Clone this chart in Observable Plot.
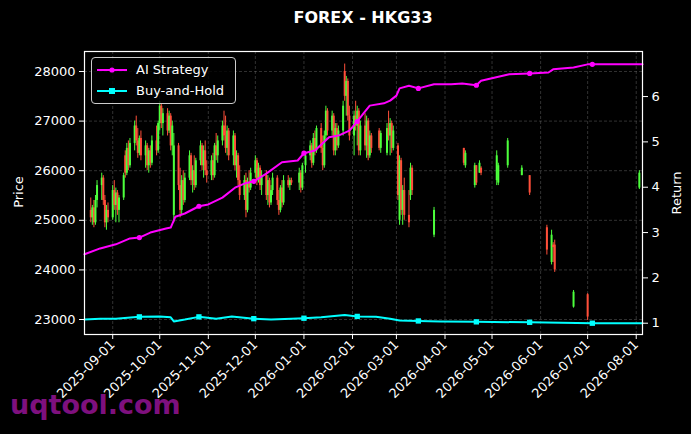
<!DOCTYPE html>
<html><head><meta charset="utf-8">
<script src="https://cdn.jsdelivr.net/npm/d3@7"></script>
<script src="https://cdn.jsdelivr.net/npm/@observablehq/plot@0.6"></script>
<style>
html,body{margin:0;padding:0;background:#000;}
#wrap{position:relative;width:691px;height:434px;background:#000;font-family:"DejaVu Sans",sans-serif;color:#fff;overflow:hidden}
#wrap > svg{position:absolute;left:0;top:0}
.title{position:absolute;left:84px;width:558px;top:8px;text-align:center;font-weight:bold;font-size:16px;}
.ylab{position:absolute;font-size:13px;white-space:nowrap;transform:translate(-50%,-50%) rotate(-90deg);}
.legend{position:absolute;left:91px;top:57px;width:143px;height:45px;border:1px solid #cccccc;border-radius:4px;background:rgba(0,0,0,0.8);font-size:13px;}
.legend .item{position:absolute;left:4px;height:16px;display:flex;align-items:center;}
.legend .item svg{display:block;}
.legend .item span{margin-left:8px;line-height:16px;}
.wm{position:absolute;left:10px;top:389px;font-size:27px;font-weight:bold;color:rgba(150,20,150,0.85);}
</style></head>
<body><div id="wrap"></div>
<script>
// ---- candles (OHLC) ----
const candleDates = ["2025-08-18","2025-08-19","2025-08-20","2025-08-21","2025-08-22","2025-08-25","2025-08-26","2025-08-27","2025-08-28","2025-08-29",
"2025-09-01","2025-09-02","2025-09-03","2025-09-04","2025-09-05","2025-09-08","2025-09-09","2025-09-10","2025-09-11","2025-09-12",
"2025-09-15","2025-09-16","2025-09-17","2025-09-18","2025-09-19","2025-09-22","2025-09-23","2025-09-24","2025-09-25","2025-09-26",
"2025-09-29","2025-09-30","2025-10-01","2025-10-02","2025-10-03","2025-10-06","2025-10-07","2025-10-08","2025-10-09","2025-10-10",
"2025-10-13","2025-10-14","2025-10-15","2025-10-16","2025-10-17","2025-10-20","2025-10-21","2025-10-22","2025-10-23","2025-10-24",
"2025-10-27","2025-10-28","2025-10-29","2025-10-30","2025-10-31","2025-11-03","2025-11-04","2025-11-05","2025-11-06","2025-11-07",
"2025-11-10","2025-11-11","2025-11-12","2025-11-13","2025-11-14","2025-11-17","2025-11-18","2025-11-19","2025-11-20","2025-11-21",
"2025-11-24","2025-11-25","2025-11-26","2025-11-27","2025-11-28","2025-12-01","2025-12-02","2025-12-03","2025-12-04","2025-12-05",
"2025-12-08","2025-12-09","2025-12-10","2025-12-11","2025-12-12","2025-12-15","2025-12-16","2025-12-17","2025-12-18","2025-12-19",
"2025-12-22","2025-12-23","2025-12-24","2025-12-29","2025-12-30","2025-12-31","2026-01-02","2026-01-05","2026-01-06","2026-01-07",
"2026-01-08","2026-01-09","2026-01-12","2026-01-13","2026-01-14","2026-01-15","2026-01-16","2026-01-19","2026-01-20","2026-01-21",
"2026-01-22","2026-01-23","2026-01-26","2026-01-27","2026-01-28","2026-01-29","2026-01-30","2026-02-02","2026-02-03","2026-02-04",
"2026-02-05","2026-02-06","2026-02-09","2026-02-10","2026-02-11","2026-02-12","2026-02-13","2026-02-18","2026-02-19","2026-02-23",
"2026-02-24","2026-02-25","2026-02-26","2026-02-27","2026-03-02","2026-03-03","2026-03-04","2026-03-05","2026-03-06","2026-03-09",
"2026-03-10","2026-03-11","2026-03-25","2026-04-13","2026-04-14","2026-04-20","2026-04-21","2026-04-23","2026-04-24","2026-05-04",
"2026-05-05","2026-05-11","2026-05-20","2026-05-25","2026-06-05","2026-06-08","2026-06-09","2026-06-10","2026-06-22","2026-07-01",
"2026-08-03"];
const candleOpen = [25200,25050,25250,24950,25400,25700,25850,25400,24950,25200,
25050,25600,25300,25550,25200,25450,26300,25950,26450,26100,
26550,26900,26600,26350,26650,26300,26500,26100,26400,26150,
26600,26400,26950,27300,26950,27150,26800,27100,26500,25100,
26500,25700,25200,25800,25400,25850,26300,25800,26000,25700,
26200,26500,26100,26400,26000,25900,26200,25900,26500,26300,
26600,26900,26700,26450,26800,26300,26700,26100,26300,25800,
25500,25800,25200,25750,25650,25950,26200,25800,26050,25700,
25900,25500,25800,25350,25600,25850,25400,25200,25650,25350,
25800,25700,25800,25750,25950,25650,26100,26300,26500,26150,
26650,26400,26850,26450,26100,26700,27200,26800,27100,26400,
26850,26500,26800,28000,27500,27800,27100,26700,27100,26900,
27200,26400,26900,26500,27000,26300,26700,26800,26450,26350,
26850,26700,26950,26450,26500,25000,26200,25200,25600,25100,
25500,26050,24700,26450,26100,25700,26100,25950,26050,25800,
25750,26100,25900,25900,24850,24150,24500,24500,23250,23500,
25650];
const candleHigh = [25450,25300,25400,25500,25800,25950,25900,25500,25300,25350,
25700,25800,25650,25600,25500,25950,26400,26550,26600,26650,
27000,27100,26850,26700,26800,26600,26550,26450,26500,26700,
26900,27000,27400,27350,27250,27250,27200,27150,27000,26750,
26550,26050,25900,26000,25950,26400,26350,26100,26300,26250,
26600,26550,26500,26600,26200,26300,26350,26550,26750,26700,
27000,27200,27100,26900,26850,26800,26750,26400,26350,26100,
25900,25950,25850,26000,26050,26300,26250,26150,26100,26000,
26000,25900,25850,25700,25950,25900,25600,25700,25800,25900,
25900,25850,25850,26050,26000,26150,26350,26600,26550,26750,
26800,26900,26950,26700,26800,27300,27250,27200,27150,26950,
26950,26900,27400,28150,27900,27850,27300,27200,27400,27300,
27250,27000,27150,27100,27050,26800,26750,26850,26800,26950,
27200,27050,27000,26900,26550,26300,26250,25700,25850,25600,
26150,26100,25260,26450,26400,26150,26100,26200,26080,26400,
26150,26650,26100,25900,24900,24800,24550,24600,23585,23520,
26000];
const candleLow = [24950,24900,24850,24900,25250,25400,25300,24850,24800,24950,
25000,25200,24950,25100,24950,25400,25850,25900,26000,26050,
26400,26500,26250,26300,26200,26050,26000,25950,26050,26100,
26300,26350,26800,26850,26700,26700,26750,26400,26300,24950,
25600,25050,25100,25300,25350,25800,25700,25550,25600,25650,
26100,26000,25850,25900,25750,25800,25800,25850,26200,26150,
26500,26600,26350,26300,26200,26100,26000,25850,25700,25400,
25400,25050,25150,25550,25600,25850,25700,25750,25600,25500,
25400,25300,25250,25300,25500,25300,25100,25150,25250,25300,
25650,25600,25700,25600,25550,25600,25950,26200,26050,26100,
26300,26350,26350,26000,26050,26600,26700,26700,26300,26300,
26400,26450,26700,27400,27100,27000,26600,26300,26800,26500,
26300,26300,26400,26250,26200,26250,26350,26400,26350,26300,
26600,26300,26350,26400,25400,24900,25100,24900,25000,24850,
25400,25500,24650,26100,26050,25650,25700,25950,25900,25700,
25700,26050,25900,25500,24300,24100,24150,23950,23230,22980,
25620];
const candleClose = [25050,25250,24950,25400,25700,25850,25400,24950,25200,25050,
25600,25300,25550,25200,25450,25900,25950,26450,26100,26550,
26900,26600,26350,26650,26300,26500,26100,26400,26150,26600,
26400,26950,27300,26950,27150,26800,27100,26500,26900,26500,
25700,25200,25800,25400,25850,26300,25800,26000,25700,26200,
26500,26100,26400,26000,25900,26200,25900,26500,26300,26600,
26900,26700,26450,26800,26300,26700,26100,26300,25800,25500,
25800,25200,25750,25650,25950,26200,25800,26050,25700,25900,
25500,25800,25350,25600,25850,25400,25200,25650,25350,25800,
25700,25800,25750,25950,25650,26100,26300,26500,26150,26650,
26400,26850,26450,26100,26700,27200,26800,27100,26400,26850,
26500,26800,27300,27500,27800,27100,26700,27100,26900,27200,
26400,26900,26500,27000,26300,26700,26450,26450,26750,26850,
26700,26950,26450,26800,25500,26200,25200,25600,25100,24950,
26050,25600,25200,26150,26350,26100,25750,26150,25950,26300,
26100,26600,26050,25550,24400,24700,24450,24000,23550,23050,
25950];

// ---- return series ----
const aiDates = ["2025-08-14","2025-08-24","2025-09-03","2025-09-12","2025-09-18","2025-09-25","2025-10-05","2025-10-08","2025-10-11","2025-10-17",
"2025-10-26","2025-11-01","2025-11-10","2025-11-18","2025-11-24","2025-11-30","2025-12-08","2025-12-18","2025-12-28","2026-01-01",
"2026-01-08","2026-01-17","2026-01-23","2026-01-30","2026-02-04","2026-02-08","2026-02-12","2026-02-21","2026-02-25","2026-03-01",
"2026-03-03","2026-03-09","2026-03-15","2026-03-25","2026-04-05","2026-04-12","2026-04-21","2026-04-24","2026-05-03","2026-05-12",
"2026-05-25","2026-06-06","2026-06-09","2026-06-22","2026-07-01","2026-07-04","2026-08-05"];
const aiReturn = [2.52,2.65,2.74,2.87,2.89,3.00,3.09,3.11,3.35,3.42,
3.58,3.62,3.77,3.99,4.08,4.13,4.30,4.55,4.59,4.75,
4.81,5.10,5.14,5.25,5.45,5.63,5.80,5.85,5.91,6.02,
6.18,6.24,6.18,6.27,6.27,6.29,6.25,6.35,6.42,6.49,
6.51,6.53,6.60,6.64,6.71,6.71,6.71];
const bhDates = ["2025-08-14","2025-08-24","2025-09-03","2025-09-18","2025-10-01","2025-10-08","2025-10-10","2025-10-17","2025-10-26","2025-11-06",
"2025-11-16","2025-11-30","2025-12-11","2025-12-24","2026-01-01","2026-01-12","2026-01-27","2026-02-04","2026-02-16","2026-02-25",
"2026-03-03","2026-03-15","2026-03-29","2026-04-21","2026-05-25","2026-07-04","2026-08-05"];
const bhReturn = [1.08,1.10,1.10,1.14,1.15,1.13,1.04,1.08,1.14,1.10,
1.15,1.10,1.08,1.10,1.11,1.13,1.18,1.15,1.14,1.10,
1.06,1.05,1.04,1.03,1.02,1.00,1.00];
const markerDates = ["2025-09-18","2025-10-26","2025-11-30","2026-01-01","2026-02-04","2026-03-15","2026-04-21","2026-05-25","2026-07-04"];

// ---- ticks ----
const xTickDates = ["2025-09-01","2025-10-01","2025-11-01","2025-12-01","2026-01-01","2026-02-01","2026-03-01","2026-04-01","2026-05-01","2026-06-01","2026-07-01","2026-08-01"];
const priceTicks = [23000,24000,25000,26000,27000,28000];
const returnTicks = [1,2,3,4,5,6];

const P_LO = 22698, P_HI = 28403, R_LO = 0.751, R_HI = 6.994;
const r2p = r => P_LO + (r - R_LO) * (P_HI - P_LO) / (R_HI - R_LO);
const p2r = p => R_LO + (p - P_LO) * (R_HI - R_LO) / (P_HI - P_LO);

const GREEN = "#4cff3c", RED = "#ff4f3a", MAG = "#ff00ff", CYAN = "#00ffff";

const candles = candleDates.map((d, i) => ({
  date: new Date(d), open: candleOpen[i], high: candleHigh[i], low: candleLow[i], close: candleClose[i],
  col: candleClose[i] >= candleOpen[i] ? GREEN : RED
}));
const ai = aiDates.map((d, i) => ({date: new Date(d), v: r2p(aiReturn[i]), m: markerDates.includes(d)}));
const bh = bhDates.map((d, i) => ({date: new Date(d), v: r2p(bhReturn[i]), m: markerDates.includes(d)}));
const xTicks = xTickDates.map(d => new Date(d));

const chart = Plot.plot({
  width: 691, height: 434,
  marginTop: 51, marginBottom: 100, marginLeft: 84, marginRight: 49,
  style: {background: "#000", color: "#fff", fontFamily: "DejaVu Sans, sans-serif", fontSize: "13px"},
  x: {type: "utc", domain: [new Date("2025-08-14"), new Date("2026-08-05")]},
  y: {domain: [P_LO, P_HI]},
  color: {type: "identity"},
  marks: [
    Plot.gridX(xTicks, {stroke: "#777", strokeOpacity: 0.7, strokeDasharray: "3,2", strokeWidth: 0.6}),
    Plot.gridY(priceTicks, {stroke: "#777", strokeOpacity: 0.7, strokeDasharray: "3,2", strokeWidth: 0.6}),
    Plot.ruleX(candles, {x: "date", y1: "low", y2: "high", stroke: "col", strokeWidth: 1}),
    Plot.ruleX(candles, {x: "date", y1: "open", y2: "close", stroke: "col", strokeWidth: 2}),
    Plot.lineY(ai, {x: "date", y: "v", stroke: MAG, strokeWidth: 2}),
    Plot.dot(ai.filter(d => d.m), {x: "date", y: "v", fill: MAG, r: 2.6}),
    Plot.lineY(bh, {x: "date", y: "v", stroke: CYAN, strokeWidth: 2}),
    Plot.dot(bh.filter(d => d.m), {x: "date", y: "v", fill: CYAN, symbol: "square", r: 3}),
    Plot.frame({stroke: "#fff", strokeWidth: 1.2}),
    Plot.axisX(xTicks, {tickFormat: d3.utcFormat("%Y-%m-%d"), tickRotate: -45, label: null, tickSize: 5, tickPadding: 3, fontSize: 13}),
    Plot.axisY(priceTicks, {anchor: "left", label: null, tickSize: 5, fontSize: 13, tickFormat: d => String(d)}),
    Plot.axisY(returnTicks.map(r2p), {anchor: "right", label: null, tickSize: 5, fontSize: 13, tickFormat: p => String(Math.round(p2r(p)))})
  ]
});

const wrap = document.getElementById("wrap");
wrap.appendChild(chart);

function addDiv(cls, html, styles) {
  const d = document.createElement("div");
  d.className = cls; d.innerHTML = html;
  Object.assign(d.style, styles || {});
  wrap.appendChild(d);
  return d;
}
addDiv("title", "FOREX - HKG33");
addDiv("ylab", "Price", {left: "18px", top: "192px"});
addDiv("ylab", "Return", {left: "676px", top: "193px"});
const sw = (c, sq) => `<svg width="32" height="10"><line x1="1" y1="5" x2="31" y2="5" stroke="${c}" stroke-width="2"/>` +
  (sq ? `<rect x="13" y="2" width="6" height="6" fill="${c}"/>` : `<circle cx="16" cy="5" r="2.6" fill="${c}"/>`) + `</svg>`;
addDiv("legend", `<div class="item" style="top:4px">${sw(MAG,false)}<span>AI Strategy</span></div>` +
  `<div class="item" style="top:25px">${sw(CYAN,true)}<span>Buy-and-Hold</span></div>`);
addDiv("wm", "uqtool.com");
</script>
</body></html>
